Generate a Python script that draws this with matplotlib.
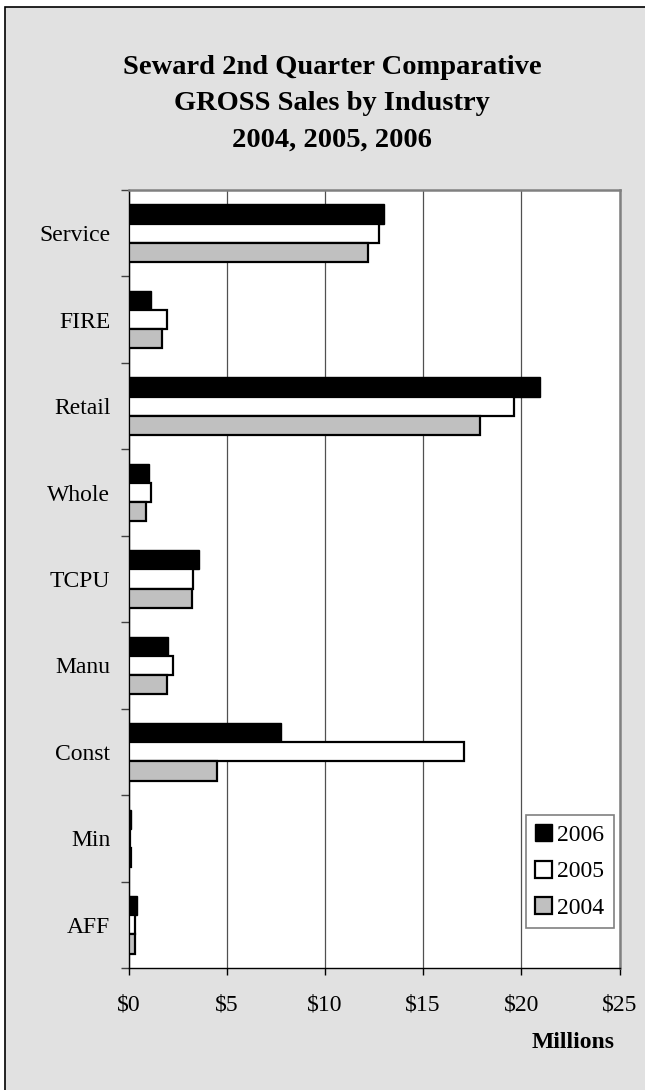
import matplotlib
matplotlib.use("Agg")
import matplotlib.pyplot as plt
import numpy as np
from matplotlib.patches import Rectangle

categories = ['Service', 'FIRE', 'Retail', 'Whole', 'TCPU', 'Manu', 'Const', 'Min', 'AFF']
sales_2006 = [13.0, 1.14, 20.93, 1.04, 3.6, 2.02, 7.75, 0.15, 0.42]
sales_2005 = [12.75, 1.97, 19.62, 1.14, 3.28, 2.28, 17.06, 0.08, 0.35]
sales_2004 = [12.2, 1.69, 17.9, 0.9, 3.22, 1.94, 4.5, 0.12, 0.31]
series_labels = ['2006', '2005', '2004']
x_ticks = [0, 5, 10, 15, 20, 25]
x_ticklabels = ['$0', '$5', '$10', '$15', '$20', '$25']
title_lines = ['Seward 2nd Quarter Comparative', 'GROSS Sales by Industry', '2004, 2005, 2006']

plt.rcParams['font.family'] = ['Liberation Serif', 'DejaVu Serif']

W, H = 645, 1090
fig = plt.figure(figsize=(W / 100, H / 100), dpi=100, facecolor='white')

# chart area background with border
bg = Rectangle((5 / W, -0.05), 1.2, 1 - 7 / H + 0.05, transform=fig.transFigure,
               facecolor='#e1e1e1', edgecolor='black', linewidth=1.2, zorder=-10)
fig.patches.append(bg)

left, right, top, bottom = 128.5, 619.5, 190, 968
ax = fig.add_axes([left / W, 1 - bottom / H, (right - left) / W, (bottom - top) / H])
ax.set_zorder(5)
ax.set_facecolor('white')

y = np.arange(len(categories))
h = 1 / 4.5
ax.barh(y - h, sales_2006, height=h, color='black', edgecolor='black', linewidth=1.0, label=series_labels[0], zorder=3)
ax.barh(y, sales_2005, height=h, color='white', edgecolor='black', linewidth=1.6, label=series_labels[1], zorder=3)
ax.barh(y + h, sales_2004, height=h, color='#c0c0c0', edgecolor='black', linewidth=1.6, label=series_labels[2], zorder=3)

ax.set_xlim(0, 25)
ax.set_ylim(len(categories) - 0.5, -0.5)

ax.set_xticks(x_ticks)
ax.set_xticklabels(x_ticklabels, fontsize=17)
ax.tick_params(axis='x', direction='out', length=5, width=1, color='black', pad=14)

ax.set_yticks(np.arange(-0.5, len(categories), 1.0))
ax.set_yticklabels([])
ax.set_yticks(y, minor=True)
ax.set_yticklabels(categories, minor=True, fontsize=17)
ax.tick_params(axis='y', which='major', direction='out', length=6, width=1, color='#404040')
ax.tick_params(axis='y', which='minor', length=0, pad=13)

ax.grid(axis='x', color='#505050', linewidth=0.9, zorder=1)
ax.set_axisbelow(True)

for s in ['top', 'right']:
    ax.spines[s].set_color('#808080')
    ax.spines[s].set_linewidth(1.8)
for s in ['left', 'bottom']:
    ax.spines[s].set_color('black')
    ax.spines[s].set_linewidth(1.0)

leg = ax.legend(loc='upper left', bbox_to_anchor=(526 / W, 1 - 815 / H), bbox_transform=fig.transFigure,
                fontsize=17, frameon=True, fancybox=False, framealpha=1, edgecolor='#808080',
                handlelength=0.72, handleheight=0.72, handletextpad=0.2, labelspacing=0.62,
                borderpad=0.4, borderaxespad=0)
leg.get_frame().set_linewidth(1.2)

for i, line in enumerate(title_lines):
    fig.text(332 / W, 1 - (68 + 36 * i) / H, line, ha='center', va='center',
             fontsize=20.5, fontweight='bold')

fig.text(615 / W, 1 - 1042 / H, 'Millions', ha='right', va='center', fontsize=17, fontweight='bold')

fig.savefig('out.png', dpi=100, facecolor='white')
